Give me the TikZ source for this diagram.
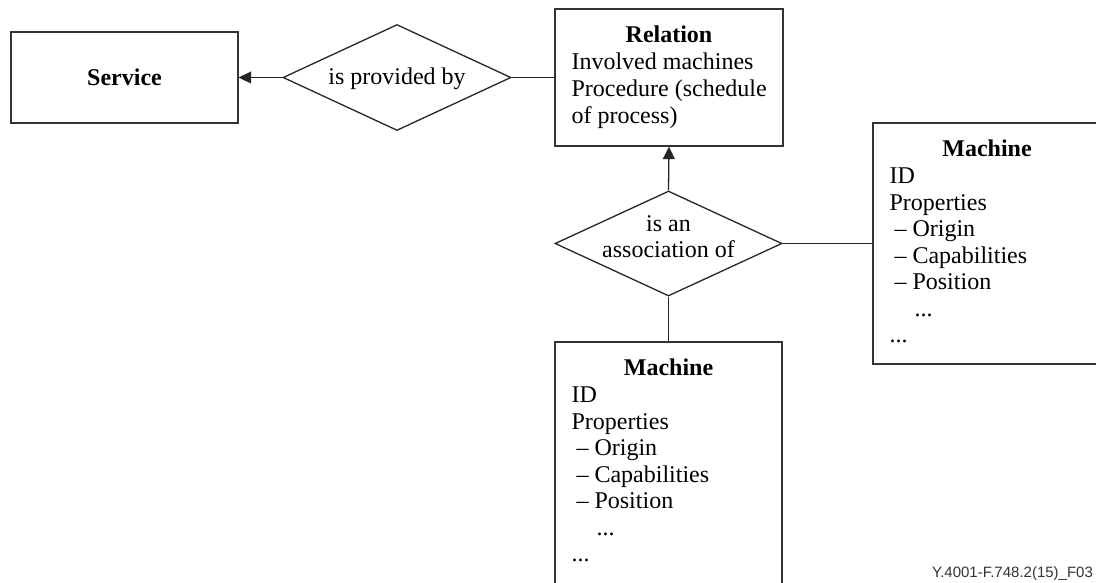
\documentclass[tikz,border=0pt]{standalone}
\usepackage{fontspec}
\setmainfont{Liberation Serif}
\setsansfont{Liberation Sans}
\usetikzlibrary{shapes.geometric,arrows.meta,calc}
\begin{document}
\begin{tikzpicture}[x=1pt,y=-1pt,
  box/.style={draw=black!80, line width=1.3pt, rectangle, inner sep=0pt},
  rel/.style={draw=black!85, line width=1.3pt, shape=diamond, inner sep=0pt},
  txt/.style={font=\fontsize{24}{26.5}\selectfont, inner sep=0pt, anchor=base west},
  ttl/.style={font=\fontsize{24}{26.5}\selectfont\bfseries, inner sep=0pt, anchor=base},
  link/.style={line width=1.3pt, draw=black!85},
  tipend/.style={-{Triangle[length=12.5pt,width=12pt]}}]
\useasboundingbox (0,0) rectangle (1096,582);
\clip (0,0) rectangle (1096,582);

% boxes
\node[box, minimum width=227pt, minimum height=91pt] (service) at (124.5,77.5) {};
\node[ttl, anchor=center] (servicet) at (124.5,77.5) {Service};
\node[box, minimum width=228pt, minimum height=137pt] (relation) at (669,77.5) {};
\node[box, minimum width=228pt, minimum height=241pt] (m1) at (987,243.5) {};
\node[box, minimum width=227pt, minimum height=260pt] (m2) at (668.5,472) {};

% diamonds
\node[rel, minimum width=228pt, minimum height=106pt] (d1) at (397,77.5) {};
\node[rel, minimum width=227pt, minimum height=105pt] (d2) at (668.5,243.5) {};
\node[font=\fontsize{24}{26.5}\selectfont, inner sep=0pt, anchor=base] (d1t) at (397,84) {is provided by};
\node[font=\fontsize{24}{26.5}\selectfont, inner sep=0pt, anchor=base] (d2t1) at (668.5,231) {is an};
\node[font=\fontsize{24}{26.5}\selectfont, inner sep=0pt, anchor=base] (d2t2) at (668.5,257) {association of};

% relation text
\node[ttl] (relt) at ($(relation.north)+(0,34)$) {Relation};
\node[txt] (rel1) at ($(relation.north west)+(17,61)$) {Involved machines};
\node[txt] (rel2) at ($(relation.north west)+(17,88)$) {Procedure (schedule};
\node[txt] (rel3) at ($(relation.north west)+(17,115)$) {of process)};

% machine texts
\foreach \b in {m1,m2} {
  \node[ttl] (\b-t) at ($(\b.north)+(0,34.5)$) {Machine};
  \node[txt] (\b-1) at ($(\b.north west)+(17,61)$) {ID};
  \node[txt] (\b-2) at ($(\b.north west)+(17,87.7)$) {Properties};
  \node[txt] (\b-3) at ($(\b.north west)+(22,114.2)$) {\textendash\ Origin};
  \node[txt] (\b-4) at ($(\b.north west)+(22,140.7)$) {\textendash\ Capabilities};
  \node[txt] (\b-5) at ($(\b.north west)+(22,167.2)$) {\textendash\ Position};
  \node[txt] (\b-6) at ($(\b.north west)+(42,193.7)$) {...};
  \node[txt] (\b-7) at ($(\b.north west)+(17,220.2)$) {...};
}

% connectors
\draw[link, tipend] (d1.west) -- (service.east);
\draw[link] (d1.east) -- (relation.west);
\draw[link, tipend] (d2.north) -- (relation.south);
\draw[link] (d2.east) -- (m1.west);
\draw[link] (d2.south) -- (m2.north);

% footer
\node[font=\fontsize{15}{18}\sffamily, inner sep=0pt, anchor=base west, text=black!80] (foot) at (932,577) {Y.4001-F.748.2(15)\_F03};
\end{tikzpicture}
\end{document}
